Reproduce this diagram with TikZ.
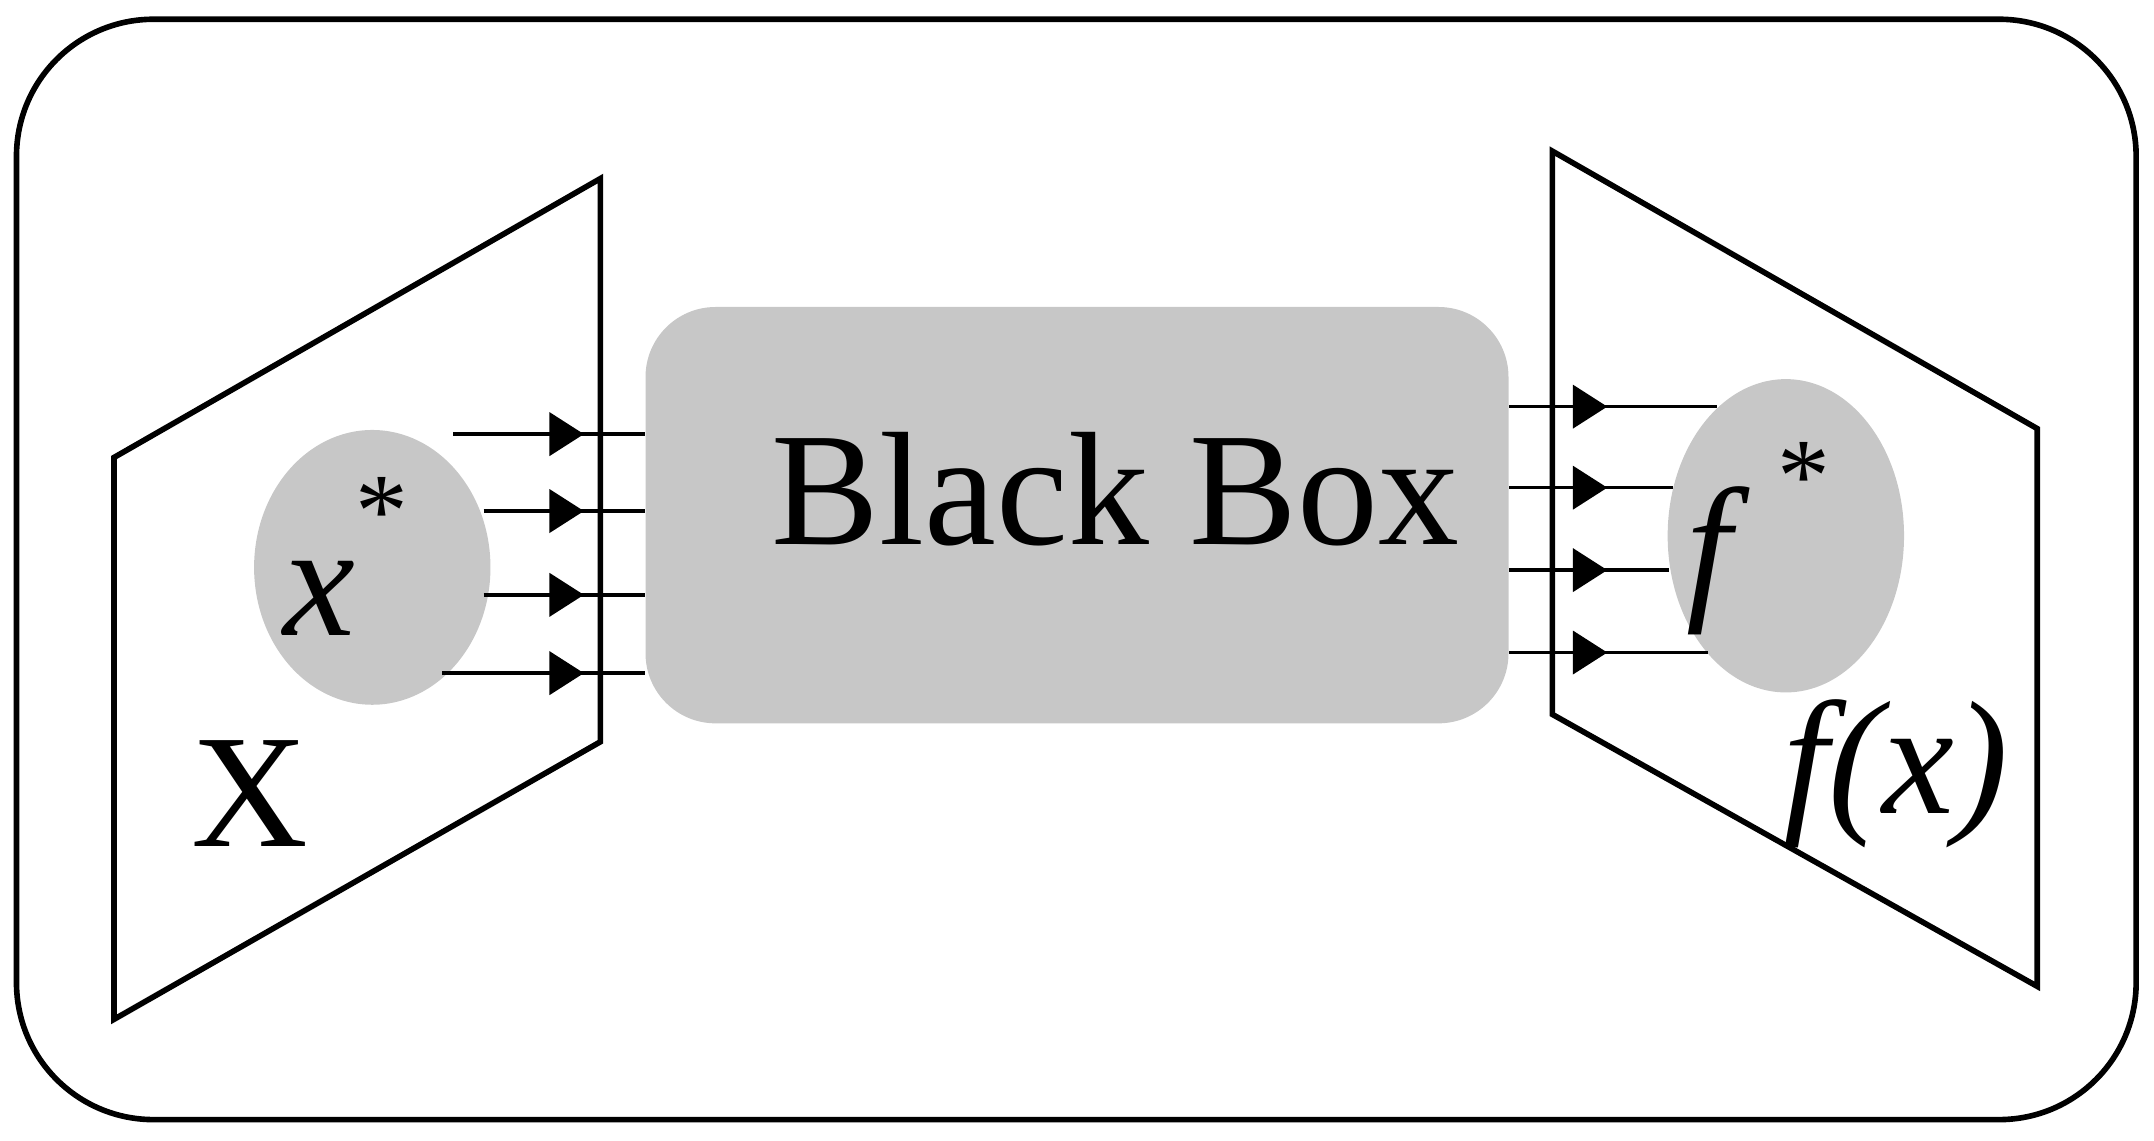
\documentclass[tikz,border=0pt]{standalone}
\usetikzlibrary{shapes.geometric}
\usepackage{fontspec}
\setmainfont{Liberation Serif}
\begin{document}
\begin{tikzpicture}[x=0.013737cm,y=-0.013737cm,
  frame/.style={line width=1.6pt},
  blob/.style={fill=black!22,draw=none,inner sep=0pt},
  conn/.style={line width=1pt},
  tri/.style={fill=black},
  big/.style={font=\fontsize{46}{50}\selectfont}]
\useasboundingbox (0,0) rectangle (1568,830);
\draw[frame,rounded corners=1.37cm] (12,14) rectangle (1555,815);
\draw[frame] (83,333) -- (437,130) -- (437,540) -- (83,742) -- cycle;
\draw[frame] (1130,110) -- (1483,312) -- (1483,718) -- (1130,520) -- cycle;
\node[blob,ellipse,minimum width=2.363cm,minimum height=2.747cm] (xs) at (271,413) {};
\node[blob,ellipse,minimum width=2.363cm,minimum height=3.132cm] (fs) at (1300,390) {};
\node[blob,rounded corners=0.7cm,minimum width=8.627cm,minimum height=4.162cm] (bb) at (784,375) {};
\node[big] (bt) at (812,356) {Black Box};
\node[big] (xt) at (252,405) {\textit{x}\raisebox{0.55em}{\fontsize{30}{30}\selectfont *}};
\node[big] (Xt) at (182,578) {X};
\node[big] (ft) at (1280,392) {\textit{f}\,\raisebox{0.55em}{\fontsize{30}{30}\selectfont *}};
\node[big] (fx) at (1380,563) {\textit{f(x)}};
\foreach \y/\xa in {316/330,372/352,433/352,490/322}{
  \draw[conn] (\xa,\y) -- (bb.west |- 0,\y);
  \fill[tri] (400,\y-16) -- (425,\y) -- (400,\y+16) -- cycle;
}
\foreach \y/\xb in {296/1250,355/1218,415/1215,475/1243}{
  \draw[conn] (bb.east |- 0,\y) -- (\xb,\y);
  \fill[tri] (1145,\y-16) -- (1170,\y) -- (1145,\y+16) -- cycle;
}
\end{tikzpicture}
\end{document}
